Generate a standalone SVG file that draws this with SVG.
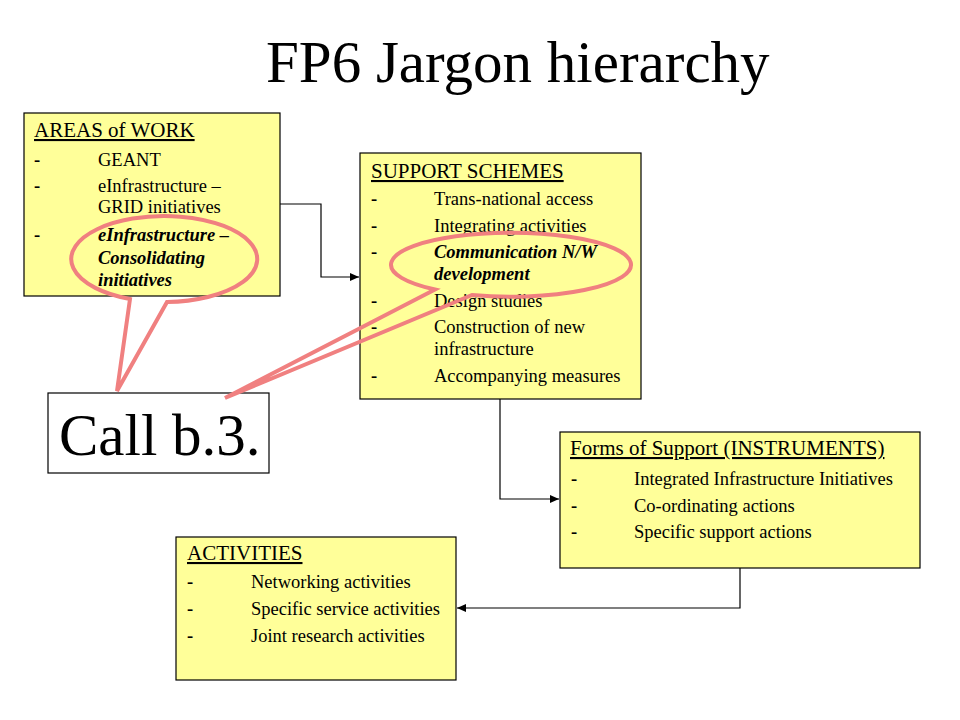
<svg xmlns="http://www.w3.org/2000/svg" width="960" height="720" viewBox="0 0 960 720">
<style>
.box{fill:#FFFF99;stroke:#000;stroke-width:1.2}
text{font-family:"Liberation Serif","Times New Roman",serif;fill:#000}
.h{font-size:21px;text-decoration:underline}
.i{font-size:18.5px}
.d{font-size:18.5px;font-weight:bold}
.bi{font-size:18.5px;font-weight:bold;font-style:italic}
.conn{fill:none;stroke:#000;stroke-width:1.2}
.call{fill:none;stroke:#F08080;stroke-width:4;stroke-linejoin:miter}
</style>
<defs>
<marker id="arr" markerUnits="userSpaceOnUse" markerWidth="10" markerHeight="8" refX="9" refY="4" orient="auto">
<path d="M0,0 L9,4 L0,8 Z" fill="#000"/>
</marker>
</defs>
<rect width="960" height="720" fill="#fff"/>
<text x="266" y="82" style="font-size:59px">FP6 Jargon hierarchy</text>

<g id="connectors">
<polyline class="conn" points="280,204 321,204 321,277 359,277" marker-end="url(#arr)"/>
<polyline class="conn" points="500,399 500,499 559,499" marker-end="url(#arr)"/>
<polyline class="conn" points="740,568 740,608 457,608" marker-end="url(#arr)"/>
</g>

<g id="areas">
<rect class="box" x="24" y="113" width="256" height="183"/>
<text class="h" x="34" y="137">AREAS of WORK</text>
<text class="d" x="34" y="166">-</text><text class="i" x="98" y="166">GEANT</text>
<text class="d" x="34" y="192">-</text><text class="i" x="98" y="192">eInfrastructure –</text>
<text class="i" x="98" y="213">GRID initiatives</text>
<text class="d" x="34" y="241">-</text><text class="bi" x="98" y="241">eInfrastructure –</text>
<text class="bi" x="98" y="264">Consolidating</text>
<text class="bi" x="98" y="286">initiatives</text>
</g>

<g id="support">
<rect class="box" x="360" y="153" width="281" height="246"/>
<text class="h" x="371" y="178">SUPPORT SCHEMES</text>
<text class="d" x="371" y="205">-</text><text class="i" x="434" y="205">Trans-national access</text>
<text class="d" x="371" y="232">-</text><text class="i" x="434" y="232">Integrating activities</text>
<text class="d" x="371" y="258">-</text><text class="bi" x="434" y="258">Communication N/W</text>
<text class="bi" x="434" y="280">development</text>
<text class="d" x="371" y="307">-</text><text class="i" x="434" y="307">Design studies</text>
<text class="d" x="371" y="333">-</text><text class="i" x="434" y="333">Construction of new</text>
<text class="i" x="434" y="355">infrastructure</text>
<text class="d" x="371" y="382">-</text><text class="i" x="434" y="382">Accompanying measures</text>
</g>

<g id="forms">
<rect class="box" x="560" y="432" width="360" height="136"/>
<text class="h" x="570" y="455">Forms of Support (INSTRUMENTS)</text>
<text class="d" x="571" y="485">-</text><text class="i" x="634" y="485">Integrated Infrastructure Initiatives</text>
<text class="d" x="571" y="512">-</text><text class="i" x="634" y="512">Co-ordinating actions</text>
<text class="d" x="571" y="538">-</text><text class="i" x="634" y="538">Specific support actions</text>
</g>

<g id="activities">
<rect class="box" x="176" y="537" width="280" height="143"/>
<text class="h" x="187" y="560">ACTIVITIES</text>
<text class="d" x="187" y="588">-</text><text class="i" x="251" y="588">Networking activities</text>
<text class="d" x="187" y="615">-</text><text class="i" x="251" y="615">Specific service activities</text>
<text class="d" x="187" y="642">-</text><text class="i" x="251" y="642">Joint research activities</text>
</g>

<g id="call">
<rect x="48" y="393" width="221" height="80" fill="#fff" stroke="#000" stroke-width="1.2"/>
<text x="59" y="455" style="font-size:59px">Call b.3.</text>
</g>

<g id="callouts">
<path class="call" d="M130,299 L117,391 L167,302 A93,43 0 1 0 130,299 Z"/>
<path class="call" d="M435,289.5 L225,398 L472,295 A120,32 0 1 0 435,289.5 Z"/>
</g>
</svg>
